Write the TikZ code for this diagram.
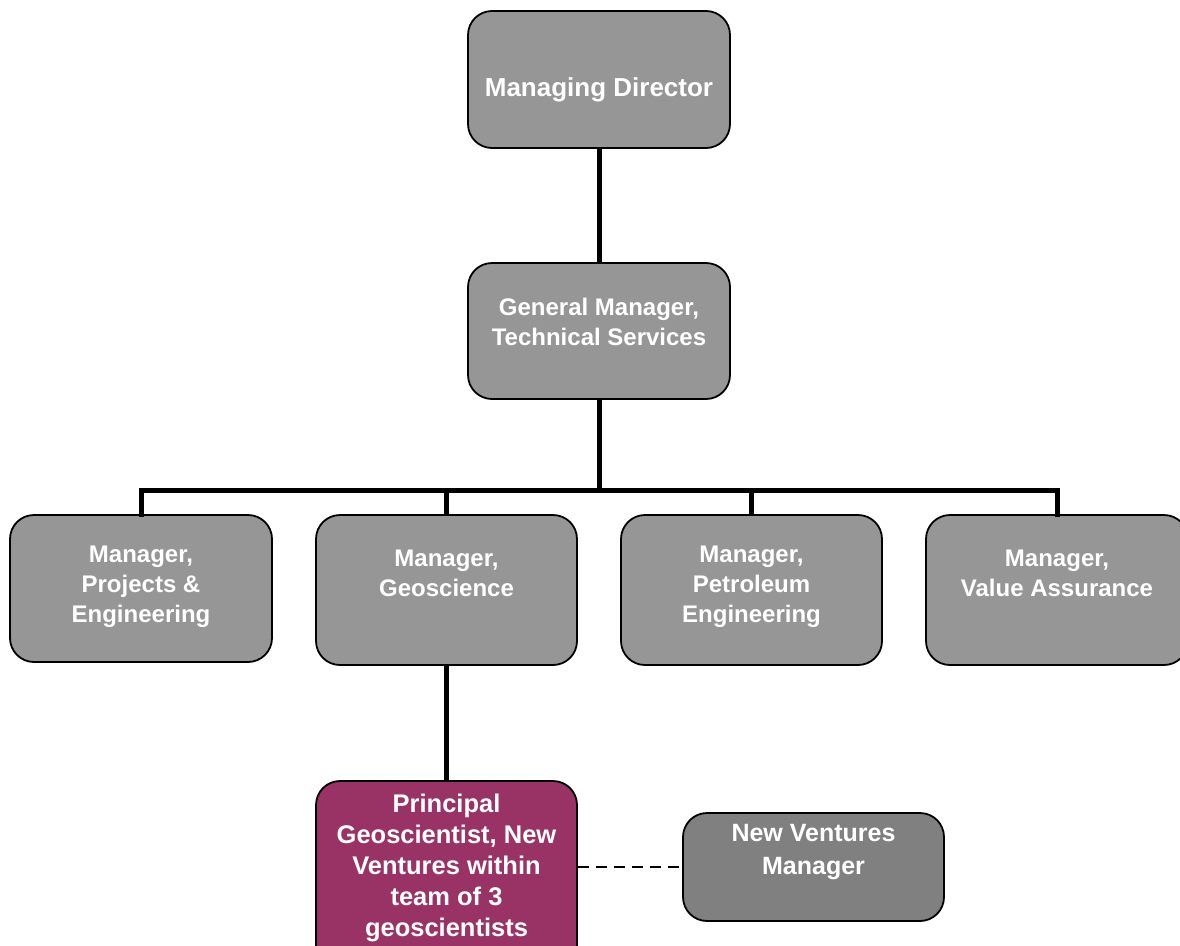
\documentclass[tikz,border=0pt]{standalone}
\usepackage{fontspec}
\setmainfont{Liberation Sans}
\begin{document}
\begin{tikzpicture}[x=1pt,y=-1pt,
  box/.style={draw=black,line width=1.8pt,rounded corners=24pt,fill=boxgray,inner sep=0pt},
  txt/.style={text=white,font=\bfseries\fontsize{24}{30}\selectfont,align=center,inner sep=0pt},
  conn/.style={line width=5pt},
]
\definecolor{boxgray}{HTML}{969696}
\definecolor{plum}{HTML}{993366}
\definecolor{darkgray}{HTML}{808080}
\useasboundingbox (0,0) rectangle (1180,945);
\clip (0,0) rectangle (1180,945);
% boxes
\node[box,minimum width=262pt,minimum height=137pt] (md) at (599,79.5) {};
\node[box,minimum width=262pt,minimum height=136pt] (gm) at (599,331) {};
\node[box,minimum width=262pt,minimum height=147pt] (pe) at (141,588.5) {};
\node[box,minimum width=261pt,minimum height=150pt] (geo) at (446.5,590) {};
\node[box,minimum width=261pt,minimum height=150pt] (pet) at (751.5,590) {};
\node[box,minimum width=262pt,minimum height=150pt] (va) at (1057,590) {};
\node[box,fill=plum,minimum width=261pt,minimum height=200pt] (pg) at (446.5,881) {};
\node[box,fill=darkgray,minimum width=261pt,minimum height=108pt] (nv) at (813.5,867) {};
% texts
\node[txt,font=\bfseries\fontsize{26}{30}\selectfont] (tmd) at (599,90) {Managing Director};
\node[txt] (tgm) at (599,322) {General Manager,\\Technical Services};
\node[txt] (tpe) at (141,587) {Manager,\\Projects \&\\Engineering};
\node[txt] (tgeo) at (446.5,573) {Manager,\\Geoscience};
\node[txt] (tpet) at (751.5,587) {Manager,\\Petroleum\\Engineering};
\node[txt] (tva) at (1057,573) {Manager,\\Value Assurance};
\node[txt,font=\bfseries\fontsize{25.5}{31}\selectfont] (tpg) at (446.5,868) {Principal\\Geoscientist, New\\Ventures within\\team of 3\\geoscientists};
\node[txt,font=\bfseries\fontsize{25}{33}\selectfont] (tnv) at (813.5,852.5) {New Ventures\\Manager};
% connectors
\coordinate (bus) at (599,490);
\draw[conn] (md.south) -- (gm.north);
\draw[conn] (gm.south) -- (bus);
\draw[conn,line cap=rect] (pe.north) |- (bus) -| (va.north);
\draw[conn] (geo.north) -- (geo.north |- bus);
\draw[conn] (pet.north) -- (pet.north |- bus);
\draw[conn] (geo.south) -- (pg.north);
\draw[line width=2.2pt,dash pattern=on 11pt off 7pt] (pg.east |- nv.west) -- (nv.west);
\end{tikzpicture}
\end{document}
